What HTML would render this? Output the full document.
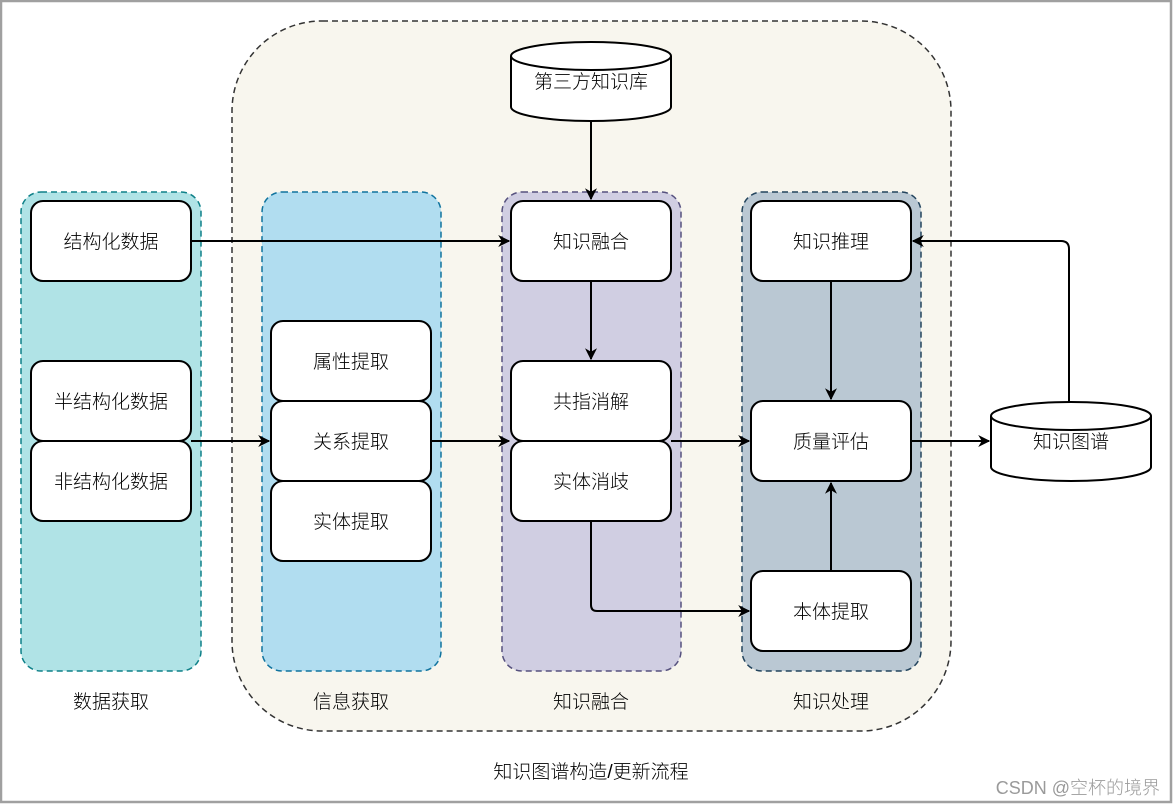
<!DOCTYPE html>
<html><head><meta charset="utf-8"><style>
html,body{margin:0;padding:0;background:#fff;}
svg{display:block;}
text{font-family:"Liberation Sans","Noto Sans CJK SC",sans-serif;font-size:19px;font-weight:300;fill:#000;}
</style></head><body>
<svg width="1175" height="806" viewBox="0 0 1175 806" xmlns="http://www.w3.org/2000/svg">
<defs>
<marker id="a" viewBox="0 0 10 10" refX="9" refY="5" markerWidth="12" markerHeight="12" markerUnits="userSpaceOnUse" orient="auto">
<path d="M0,0 L10,5 L0,10 L3,5 z" fill="#000"/></marker>
</defs>
<rect x="1" y="1" width="1170" height="801" fill="#fff" stroke="#a0a0a0" stroke-width="2.5"/>
<rect x="232" y="21" width="719" height="710" rx="90" fill="#f8f6ee" stroke="#333" stroke-width="1.5" stroke-dasharray="6,4"/>
<rect x="21" y="192" width="180" height="479" rx="20" fill="#b0e3e6" stroke="#0e8088" stroke-width="1.5" stroke-dasharray="6,4"/>
<rect x="262" y="192" width="179" height="479" rx="20" fill="#b1ddf0" stroke="#10739e" stroke-width="1.5" stroke-dasharray="6,4"/>
<rect x="502" y="192" width="179" height="479" rx="20" fill="#d0cee2" stroke="#56517e" stroke-width="1.5" stroke-dasharray="6,4"/>
<rect x="742" y="192" width="179" height="479" rx="20" fill="#bac8d3" stroke="#23445d" stroke-width="1.5" stroke-dasharray="6,4"/>
<g fill="#fff" stroke="#000" stroke-width="2">
<rect x="31" y="201" width="160" height="80" rx="12"/>
<rect x="31" y="361" width="160" height="80" rx="12"/>
<rect x="31" y="441" width="160" height="80" rx="12"/>
<rect x="271" y="321" width="160" height="80" rx="12"/>
<rect x="271" y="401" width="160" height="80" rx="12"/>
<rect x="271" y="481" width="160" height="80" rx="12"/>
<rect x="511" y="201" width="160" height="80" rx="12"/>
<rect x="511" y="361" width="160" height="80" rx="12"/>
<rect x="511" y="441" width="160" height="80" rx="12"/>
<rect x="751" y="201" width="160" height="80" rx="12"/>
<rect x="751" y="401" width="160" height="80" rx="12"/>
<rect x="751" y="571" width="160" height="80" rx="12"/>
<path d="M511,56 A80,14 0 0 1 671,56 L671,107 A80,14 0 0 1 511,107 Z"/>
<path d="M511,56 A80,14 0 0 0 671,56" fill="none"/>
<path d="M991,416 A80,14 0 0 1 1151,416 L1151,467 A80,14 0 0 1 991,467 Z"/>
<path d="M991,416 A80,14 0 0 0 1151,416" fill="none"/>
</g>
<g stroke="#000" stroke-width="2" fill="none" marker-end="url(#a)">
<path d="M191,241 H509"/>
<path d="M191,441 H269"/>
<path d="M431,441 H509"/>
<path d="M671,441 H749"/>
<path d="M591,121 V199"/>
<path d="M591,281 V359"/>
<path d="M591,521 V605 Q591,611 597,611 H749"/>
<path d="M831,281 V399"/>
<path d="M831,571 V483"/>
<path d="M911,441 H989"/>
<path d="M1069,402 V249 Q1069,241 1061,241 H913"/>
</g>
<g text-anchor="middle">
<text x="111" y="248">结构化数据</text>
<text x="111" y="408">半结构化数据</text>
<text x="111" y="488">非结构化数据</text>
<text x="351" y="368">属性提取</text>
<text x="351" y="448">关系提取</text>
<text x="351" y="528">实体提取</text>
<text x="591" y="248">知识融合</text>
<text x="591" y="408">共指消解</text>
<text x="591" y="488">实体消歧</text>
<text x="831" y="248">知识推理</text>
<text x="831" y="448">质量评估</text>
<text x="831" y="618">本体提取</text>
<text x="591" y="88">第三方知识库</text>
<text x="1071" y="448">知识图谱</text>
<text x="111" y="708">数据获取</text>
<text x="351" y="708">信息获取</text>
<text x="591" y="708">知识融合</text>
<text x="831" y="708">知识处理</text>
<text x="591" y="778">知识图谱构造/更新流程</text>
</g>
<text x="1160" y="794" text-anchor="end" style="font-size:18px;fill:#9a9a9a">CSDN @空杯的境界</text>
</svg>
</body></html>
